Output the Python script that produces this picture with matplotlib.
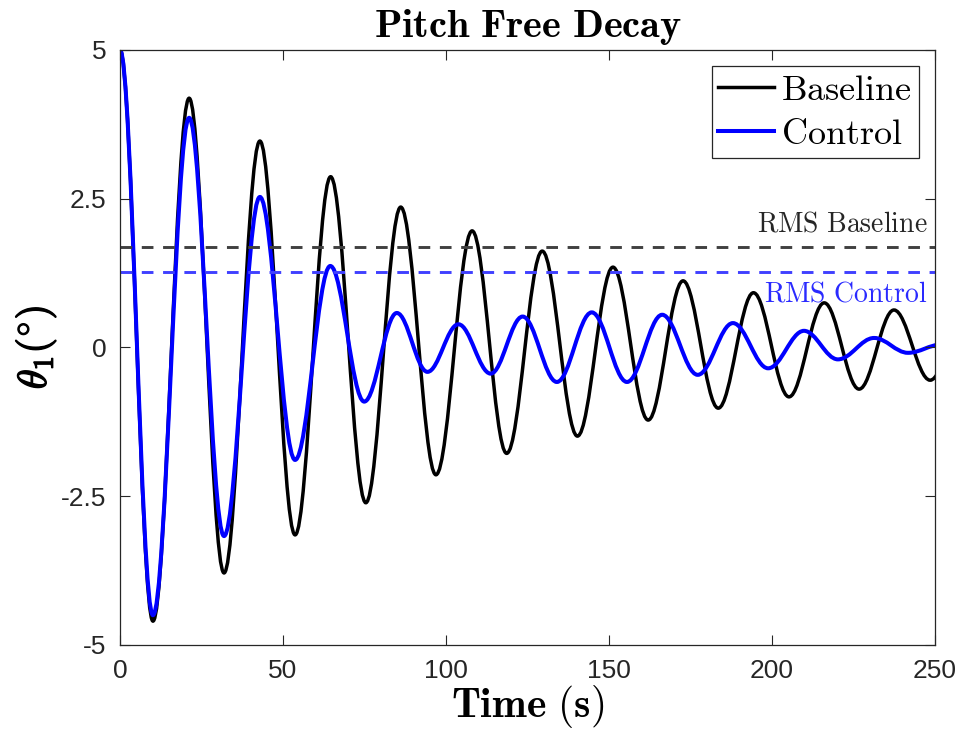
import numpy as np
import matplotlib
matplotlib.use('Agg')
import matplotlib.pyplot as plt
from matplotlib.path import Path
from matplotlib.patches import PathPatch
from matplotlib.lines import Line2D
import matplotlib.patheffects as pe

plt.rcParams['mathtext.fontset'] = 'cm'
plt.rcParams['font.family'] = 'Liberation Sans'

# turning points (time s, pitch deg)
base_t = [0, 10.1, 21.2, 31.9, 42.9, 53.7, 64.6, 75.4, 86.1, 96.9, 108.0, 118.6,
          129.5, 140.3, 151.2, 162.0, 172.7, 183.5, 194.3, 205.2, 216.0, 226.7,
          237.4, 248.5, 259.0]
base_v = [5.0, -4.6, 4.19, -3.79, 3.47, -3.15, 2.87, -2.61, 2.36, -2.14, 1.96, -1.78,
          1.62, -1.49, 1.35, -1.22, 1.12, -1.02, 0.92, -0.83, 0.75, -0.70,
          0.63, -0.55, 0.50]

ctrl_t = [0, 10.1, 21.2, 31.9, 42.9, 53.7, 64.5, 74.9, 84.9, 94.3, 103.8, 113.7,
          123.5, 134.0, 144.7, 155.5, 166.3, 177.2, 188.0, 198.8, 209.8, 220.2,
          231.3, 241.7, 252.0]
ctrl_v = [5.0, -4.5, 3.86, -3.17, 2.53, -1.89, 1.37, -0.91, 0.58, -0.41, 0.39, -0.44,
          0.52, -0.58, 0.59, -0.58, 0.55, -0.46, 0.41, -0.35, 0.28, -0.20,
          0.16, -0.09, 0.05]

rms_base = 1.69
rms_ctrl = 1.27

xticks = [0, 50, 100, 150, 200, 250]
yticks = [-5, -2.5, 0, 2.5, 5]
yticklabels = ['-5', '-2.5', '0', '2.5', '5']


def swing_path(t, v):
    # smooth swing between turning points, flat at each peak
    k = 0.3634
    verts = [(t[0], v[0])]
    codes = [Path.MOVETO]
    for i in range(len(t) - 1):
        dt = t[i + 1] - t[i]
        verts += [(t[i] + k * dt, v[i]), (t[i + 1] - k * dt, v[i + 1]), (t[i + 1], v[i + 1])]
        codes += [Path.CURVE4] * 3
    return Path(verts, codes)


fig = plt.figure(figsize=(9.61, 7.34), dpi=100)
ax = fig.add_axes([0.1249, 0.1213, 0.8481, 0.8106])

ax.plot([0, 250], [rms_base, rms_base], color='#404040', lw=2.1, dashes=(4, 3.3))
ax.plot([0, 250], [rms_ctrl, rms_ctrl], color='#4040ff', lw=2.1, dashes=(4, 3.3))

ax.add_patch(PathPatch(swing_path(base_t, base_v), fill=False, ec='black', lw=2.5,
                       capstyle='round', joinstyle='round'))
ax.add_patch(PathPatch(swing_path(ctrl_t, ctrl_v), fill=False, ec='#0000ff', lw=2.9,
                       capstyle='round', joinstyle='round'))

ax.text(247.6, rms_base + 0.15, r'$\mathrm{RMS\ Baseline}$', color='#262626',
        fontsize=20, ha='right', va='bottom')
ax.text(247.6, rms_ctrl - 0.16, r'$\mathrm{RMS\ Control}$', color='#2a2aff',
        fontsize=20, ha='right', va='top')

ax.set_xlim(0, 250)
ax.set_ylim(-5, 5)
ax.set_xticks(xticks)
ax.set_yticks(yticks)
ax.set_yticklabels(yticklabels)
ax.tick_params(direction='in', top=True, right=True, length=7, width=0.8,
               labelsize=19, colors='#262626', pad=10)
for s in ax.spines.values():
    s.set_color('#262626')
    s.set_linewidth(0.9)

ax.set_title(r'$\mathbf{Pitch\ Free\ Decay}$', fontsize=29, pad=9)
ax.set_xlabel(r'$\mathbf{Time\ (s)}$', fontsize=30, labelpad=0)
yl = ax.set_ylabel(r'$\theta_1(^{\circ})$', fontsize=29, labelpad=2)
yl.set_path_effects([pe.withStroke(linewidth=1.0, foreground='black')])

handles = [Line2D([], [], color='black', lw=2.5), Line2D([], [], color='#0000ff', lw=2.9)]
leg = ax.legend(handles, [r'$\mathrm{Baseline}$', r'$\mathrm{Control}$'],
                loc='upper right', fontsize=26, fancybox=False, framealpha=1,
                edgecolor='#262626', handlelength=1.55, handletextpad=0.2,
                borderpad=0.18, labelspacing=0.25, borderaxespad=0.45)
leg.get_frame().set_linewidth(0.9)

plt.savefig('out.png', dpi=100)
